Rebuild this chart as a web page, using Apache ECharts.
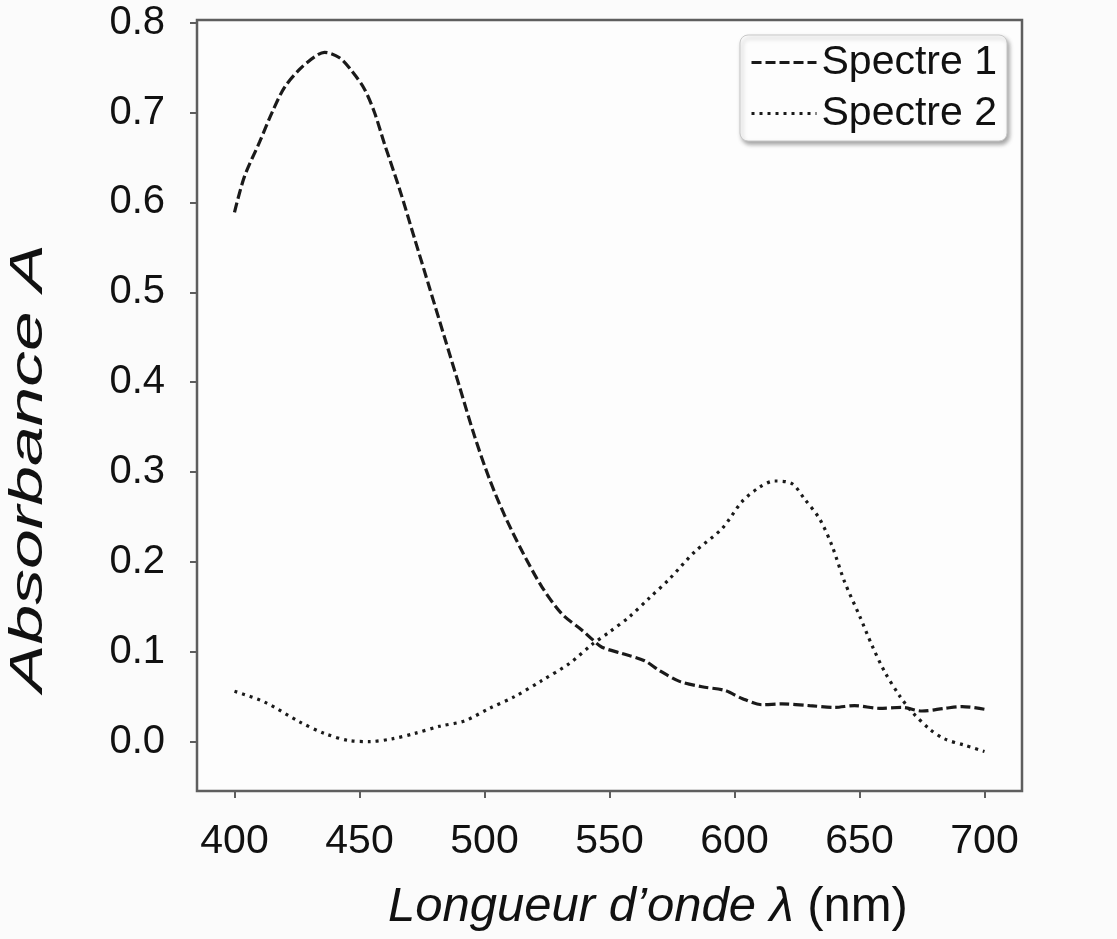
<!DOCTYPE html>
<html>
<head>
<meta charset="utf-8">
<script src="https://cdn.jsdelivr.net/npm/echarts@6/dist/echarts.min.js"></script>
<style>
html,body{margin:0;padding:0;background:#fbfbfb;}
#main{width:1117px;height:939px;}
</style>
</head>
<body>
<div id="main"></div>
<script>
// ---- data ----
const seriesNames = ['Spectre 1', 'Spectre 2'];
const xTicks = [400, 450, 500, 550, 600, 650, 700];
const yTicks = [0.0, 0.1, 0.2, 0.3, 0.4, 0.5, 0.6, 0.7, 0.8];

const wavelength1 = [400, 404, 410, 415, 420, 426, 432, 436, 442, 447, 452, 456, 460, 466, 472, 478, 484, 490, 496, 502, 508, 515, 523, 531, 539, 543, 547, 555, 564, 570, 578, 587, 596, 603, 611, 619, 630, 640, 648, 658, 667, 675, 684, 691, 700];
const absorb1 = [0.589, 0.629, 0.667, 0.700, 0.728, 0.748, 0.762, 0.767, 0.761, 0.746, 0.726, 0.700, 0.665, 0.615, 0.560, 0.505, 0.450, 0.395, 0.340, 0.292, 0.252, 0.212, 0.172, 0.142, 0.124, 0.114, 0.105, 0.098, 0.090, 0.079, 0.067, 0.061, 0.057, 0.048, 0.041, 0.042, 0.040, 0.038, 0.040, 0.037, 0.038, 0.034, 0.037, 0.039, 0.036];

const wavelength2 = [400, 412, 426, 436, 446, 454, 463, 472, 482, 492, 502, 512, 523, 534, 543, 550, 558, 566, 574, 584, 595, 603, 610, 616, 623, 628, 634, 639, 644, 650, 655, 660, 666, 671, 678, 684, 692, 700];
const absorb2 = [0.056, 0.044, 0.022, 0.009, 0.001, 0.000, 0.003, 0.009, 0.017, 0.023, 0.037, 0.050, 0.068, 0.087, 0.108, 0.122, 0.139, 0.160, 0.181, 0.211, 0.237, 0.267, 0.283, 0.290, 0.287, 0.270, 0.248, 0.218, 0.178, 0.140, 0.107, 0.078, 0.051, 0.033, 0.014, 0.003, -0.004, -0.011];

const yTitle = 'Absorbance A';
const xTitleItalic = 'Longueur d\u2019onde \u03bb';
const xTitleUnit = '(nm)';

// ---- chart ----
const FONT = 'Liberation Sans, Arial, sans-serif';
const pairs = (xs, ys) => xs.map((x, i) => [x, ys[i]]);
const chart = echarts.init(document.getElementById('main'));

chart.setOption({
  backgroundColor: '#fbfbfb',
  animation: false,
  textStyle: { fontFamily: FONT },
  grid: {
    left: 197, right: 95, top: 20, bottom: 148,
    show: true, borderColor: '#5e5e5e', borderWidth: 2.5, backgroundColor: '#fdfdfd'
  },
  legend: {
    orient: 'vertical',
    right: 110, top: 35,
    padding: [7, 10, 7, 10],
    itemGap: 10,
    itemWidth: 65, itemHeight: 14,
    itemTextGap: 6,
    itemStyle: { opacity: 0 },
    lineStyle: { width: 3 },
    backgroundColor: '#fdfdfd',
    borderColor: '#c8c8c8', borderWidth: 1, borderRadius: 8,
    shadowColor: 'rgba(0,0,0,0.35)', shadowBlur: 4, shadowOffsetX: 2, shadowOffsetY: 3,
    textStyle: { fontSize: 41, color: '#111', fontFamily: FONT },
    data: seriesNames
  },
  xAxis: {
    type: 'value', min: 385, max: 715,
    axisLine: { show: false, onZero: false },
    splitLine: { show: false },
    axisTick: { show: true, length: 7, lineStyle: { color: '#5e5e5e', width: 2 }, customValues: xTicks },
    axisLabel: { customValues: xTicks, margin: 30, fontSize: 41, color: '#111', fontFamily: FONT },
    name: '{i|' + xTitleItalic + ' }{n|' + xTitleUnit + '}',
    nameLocation: 'middle', nameGap: 92,
    nameTextStyle: {
      padding: [0, 0, 0, 77],
      rich: {
        i: { fontSize: 49, fontStyle: 'italic', color: '#111', fontFamily: FONT },
        n: { fontSize: 49, color: '#111', fontFamily: FONT }
      }
    }
  },
  yAxis: {
    type: 'value', min: -0.055, max: 0.803,
    axisLine: { show: false, onZero: false },
    splitLine: { show: false },
    axisTick: { show: true, length: 7, lineStyle: { color: '#5e5e5e', width: 2 }, customValues: yTicks },
    axisLabel: { customValues: yTicks, margin: 32, fontSize: 40, color: '#111', fontFamily: FONT,
      formatter: v => v.toFixed(1) }
  },
  graphic: [{
    type: 'text',
    x: 29, y: 468,
    rotation: Math.PI / 2,
    scaleX: 1.55,
    style: {
      text: yTitle,
      font: 'italic 46px ' + FONT,
      fill: '#111',
      align: 'center',
      verticalAlign: 'middle'
    }
  }],
  series: [{
    name: seriesNames[0],
    type: 'line',
    data: pairs(wavelength1, absorb1),
    smooth: 0.3,
    symbol: 'none',
    lineStyle: { color: '#1a1a1a', width: 3.2, type: [10, 4] },
    itemStyle: { color: '#1a1a1a' }
  }, {
    name: seriesNames[1],
    type: 'line',
    data: pairs(wavelength2, absorb2),
    smooth: 0.3,
    symbol: 'none',
    lineStyle: { color: '#1a1a1a', width: 3.2, type: [3, 5] },
    itemStyle: { color: '#1a1a1a' }
  }]
});
</script>
</body>
</html>
